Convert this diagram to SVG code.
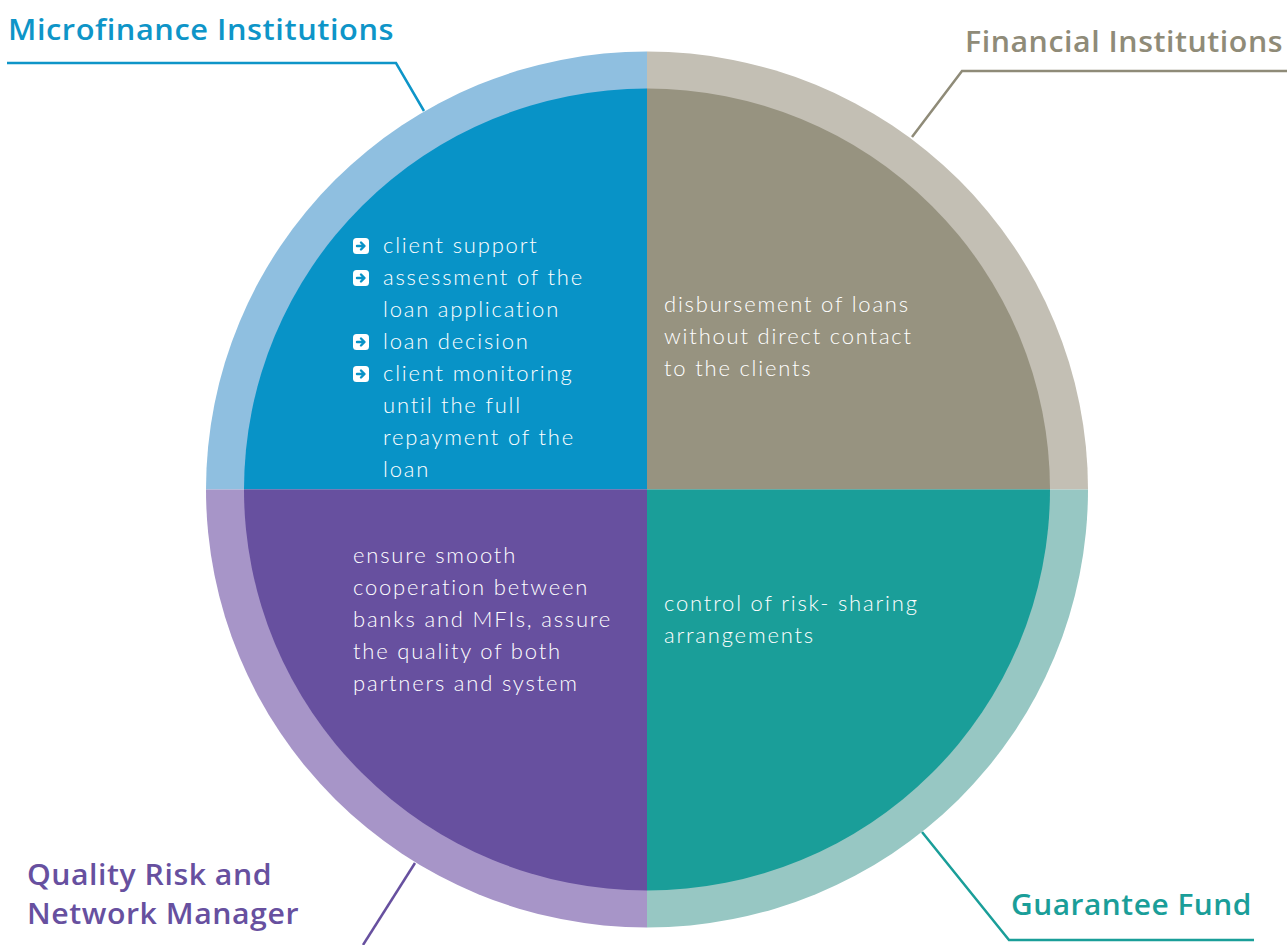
<svg xmlns="http://www.w3.org/2000/svg" width="1287" height="945" viewBox="0 0 1287 945">
<style>
.title{font-family:"Open Sans","Noto Sans","Liberation Sans",sans-serif;font-size:28px;font-weight:600;letter-spacing:0.5px}
.body{font-family:Lato,"Open Sans","Liberation Sans",sans-serif;font-size:22px;font-weight:300;fill:#ffffff;letter-spacing:1.8px}
.lead{fill:none;stroke-width:2.5}
</style>
<defs>
<g id="bullet">
<rect x="0" y="0" width="16" height="16" rx="3.5" fill="#ffffff"/>
<path d="M4,8 H11 M8,4.5 L11.5,8 L8,11.5" fill="none" stroke="#0893C7" stroke-width="2.4" stroke-linecap="round" stroke-linejoin="round"/>
</g>
</defs>
<rect width="1287" height="945" fill="#ffffff"/>

<g id="connectors">
<polyline class="lead" stroke="#0E95C8" points="7,63 396,63 424,111"/>
<polyline class="lead" stroke="#8F8B78" points="1287,71 962,71 912,137"/>
<polyline class="lead" stroke="#1A9E99" points="922,832 1009,940 1254,940"/>
<polyline class="lead" stroke="#67509F" points="415,863 363,945"/>
</g>

<g id="microfinance">
<path d="M647,489.5 L206,489.5 A441,438 0 0 1 647,51.5 Z" fill="#8FBFE0"/>
<path d="M647,489.5 L244,489.5 A403,401 0 0 1 647,88.5 Z" fill="#0893C7"/>
<text class="title" x="8" y="40" fill="#0E95C8" textLength="386" lengthAdjust="spacingAndGlyphs">Microfinance Institutions</text>
<use href="#bullet" x="353" y="238"/>
<use href="#bullet" x="353" y="270"/>
<use href="#bullet" x="353" y="334"/>
<use href="#bullet" x="353" y="366"/>
<text class="body" x="383" y="253">client support</text>
<text class="body" x="383" y="285">assessment of the</text>
<text class="body" x="383" y="317">loan application</text>
<text class="body" x="383" y="349">loan decision</text>
<text class="body" x="383" y="381">client monitoring</text>
<text class="body" x="383" y="413">until the full</text>
<text class="body" x="383" y="445">repayment of the</text>
<text class="body" x="383" y="477">loan</text>
</g>

<g id="financial">
<path d="M647,489.5 L647,51.5 A441,438 0 0 1 1088,489.5 Z" fill="#C3BFB4"/>
<path d="M647,489.5 L647,88.5 A403,401 0 0 1 1050,489.5 Z" fill="#979380"/>
<text class="title" x="965" y="52" fill="#8F8B78" textLength="318" lengthAdjust="spacingAndGlyphs">Financial Institutions</text>
<text class="body" x="664" y="312">disbursement of loans</text>
<text class="body" x="664" y="344">without direct contact</text>
<text class="body" x="664" y="376">to the clients</text>
</g>

<g id="guarantee">
<path d="M647,489.5 L1088,489.5 A441,438 0 0 1 647,927.5 Z" fill="#97C7C3"/>
<path d="M647,489.5 L1050,489.5 A403,401 0 0 1 647,890.5 Z" fill="#1A9E99"/>
<text class="title" x="1011" y="915" fill="#1A9E99" textLength="241" lengthAdjust="spacingAndGlyphs">Guarantee Fund</text>
<text class="body" x="664" y="611">control of risk- sharing</text>
<text class="body" x="664" y="643">arrangements</text>
</g>

<g id="quality">
<path d="M647,489.5 L647,927.5 A441,438 0 0 1 206,489.5 Z" fill="#A795C8"/>
<path d="M647,489.5 L647,890.5 A403,401 0 0 1 244,489.5 Z" fill="#67509F"/>
<text class="title" x="27" y="885" fill="#67509F" textLength="245" lengthAdjust="spacingAndGlyphs">Quality Risk and</text>
<text class="title" x="27" y="924" fill="#67509F" textLength="272" lengthAdjust="spacingAndGlyphs">Network Manager</text>
<text class="body" x="353" y="563">ensure smooth</text>
<text class="body" x="353" y="595">cooperation between</text>
<text class="body" x="353" y="627">banks and MFIs, assure</text>
<text class="body" x="353" y="659">the quality of both</text>
<text class="body" x="353" y="691">partners and system</text>
</g>
</svg>
